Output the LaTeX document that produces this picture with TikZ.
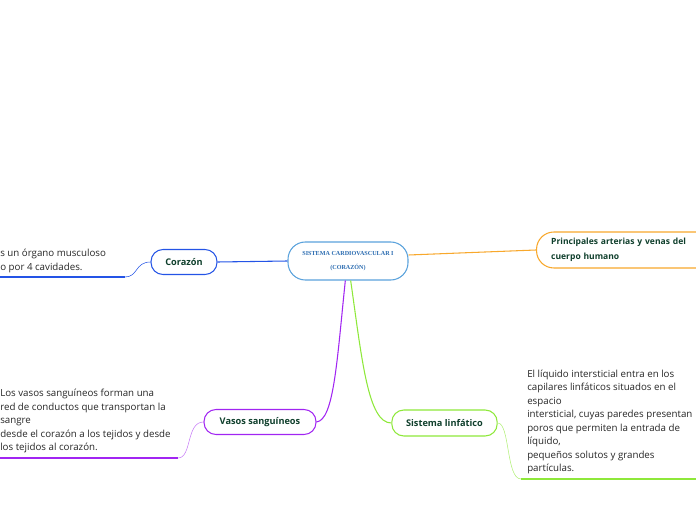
\documentclass[tikz,border=0pt]{standalone}
\usepackage{fontspec}
\setmainfont{Open Sans}
\newfontfamily\titlefont{Liberation Serif}
\usetikzlibrary{positioning}
\definecolor{mainBlue}{HTML}{5AA2DC}
\definecolor{mainText}{HTML}{2A6BB0}
\definecolor{heartBlue}{HTML}{2454E6}
\definecolor{arteryOrange}{HTML}{F8A82C}
\definecolor{vesselPurple}{HTML}{A125F2}
\definecolor{lymphGreen}{HTML}{8EE83A}
\definecolor{labelGreen}{HTML}{0F3F2C}
\definecolor{noteText}{HTML}{262626}

\begin{document}
\begin{tikzpicture}[x=0.75pt, y=-0.75pt,
          topic/.style={draw, line width=0.8pt, fill=white, rounded corners=9pt, minimum height=18.75pt, text=labelGreen, font=\fontsize{6.9}{8.5}\selectfont\bfseries, inner sep=3pt},
          note/.style={anchor=west, text=noteText, font=\fontsize{7.3}{10.1}\selectfont, align=left, inner sep=0pt},
          link/.style={line width=0.8pt}
        ]
        \useasboundingbox (0,0) rectangle (696,520);
        \clip (0,0) rectangle (696,520);
        % central topic
        \node[draw=mainBlue, line width=0.8pt, rounded corners=13pt, minimum width=90pt, minimum height=28.5pt, align=center,
              text=mainText, font=\titlefont\fontsize{4.6}{10.5}\selectfont\bfseries] (center) at (348,261)
              {SISTEMA CARDIOVASCULAR I\\(CORAZÓN)};
        % main topics
        \node[topic, draw=heartBlue, minimum width=49.5pt] (heart) at (184,262) {Corazón};
        \node[topic, draw=arteryOrange, anchor=west, minimum height=27pt, rounded corners=13pt, text width=135pt, align=left, inner xsep=11pt,
              font=\fontsize{6.4}{11}\selectfont\bfseries] (arteries) at (536,250) {Principales arterias y venas del\\cuerpo humano};
        \node[topic, draw=vesselPurple, minimum width=84pt] (vessels) at (260,422) {Vasos sanguíneos};
        \node[topic, draw=lymphGreen, minimum width=79pt, minimum height=19.5pt] (lymph) at (444.5,423) {Sistema linfático};
        \draw[link, heartBlue] (center.west) -- (heart.east);
        \draw[link, arteryOrange] ([yshift=4.5pt]center.east) -- (arteries.west);
        \draw[link, vesselPurple] ([xshift=-2pt]center.south) .. controls (337,360) and (334,420) .. (vessels.east);
        \draw[link, lymphGreen] ([xshift=2pt]center.south) .. controls (362,360) and (368,423) .. (lymph.west);
        % notes
        \coordinate (heartEnd) at (125,277);
        \coordinate (vesselsEnd) at (178,458);
        \coordinate (lymphEnd) at (521,479);
        \draw[heartBlue, line width=0.4pt] (heart.west) .. controls (135,262) and (138,277) .. (heartEnd);
        \draw[heartBlue, line width=1pt] (heartEnd) -- (0,277);
        \node[note] (heartNote) at (0,261) {s un órgano musculoso\\o por 4 cavidades.};
        \draw[vesselPurple!60, line width=0.4pt] (vessels.west) .. controls (186,422) and (192,458) .. (vesselsEnd);
        \draw[vesselPurple, line width=1pt] (vesselsEnd) -- (0,458);
        \node[note] (vesselsNote) at (0,421) {Los vasos sanguíneos forman una\\red de conductos que transportan la\\sangre\\desde el corazón a los tejidos y desde\\los tejidos al corazón.};
        \draw[lymphGreen!70, line width=0.4pt] (lymph.east) .. controls (510,423) and (506,479) .. (lymphEnd);
        \draw[lymphGreen, line width=1pt] (lymphEnd) -- (696,479);
        \node[note] (lymphNote) at (527,422) {El líquido intersticial entra en los\\capilares linfáticos situados en el\\espacio\\intersticial, cuyas paredes presentan\\poros que permiten la entrada de\\líquido,\\pequeños solutos y grandes\\partículas.};
      \end{tikzpicture}
\end{document}
